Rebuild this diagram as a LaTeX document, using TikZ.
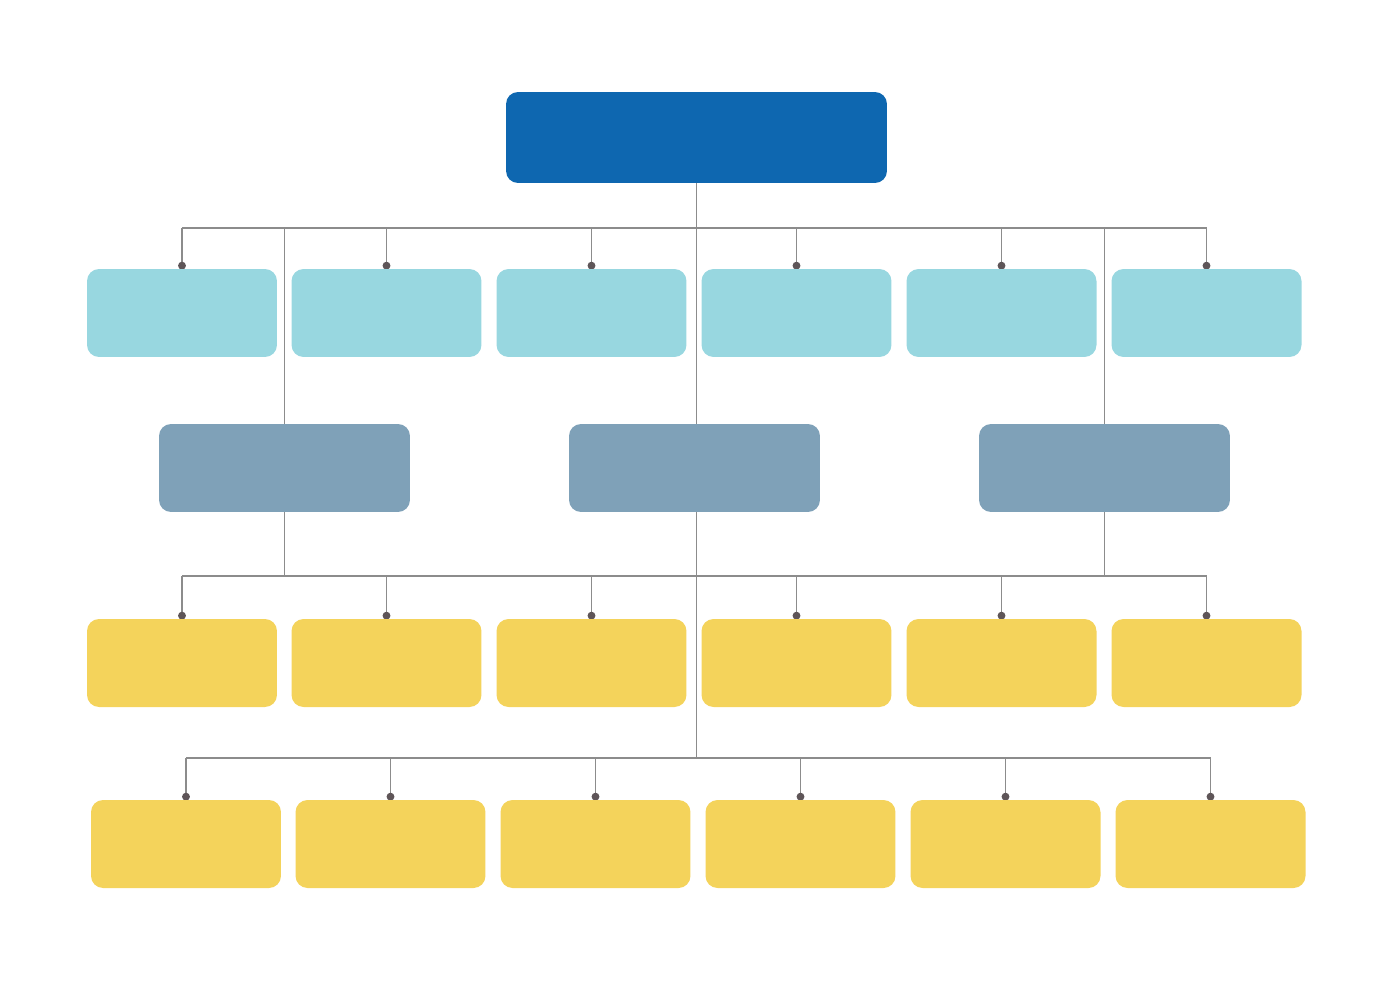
\documentclass[tikz,border=0pt]{standalone}
\usetikzlibrary{backgrounds}

\definecolor{topblue}{HTML}{0E67B0}
\definecolor{lightblue}{HTML}{98D7E0}
\definecolor{steelblue}{HTML}{7FA1B8}
\definecolor{sunyellow}{HTML}{F4D35B}
\definecolor{linegray}{HTML}{8C8C8C}
\definecolor{dotgray}{HTML}{5E5558}

\begin{document}
\begin{tikzpicture}[x=0.02cm, y=-0.02cm,
	box/.style = {rounded corners=0.24cm, minimum width=3.8cm, minimum height=1.76cm, inner sep=0pt},
	link/.style = {draw=linegray, line width=0.9pt},
	tip/.style = {fill=dotgray, circle, inner sep=0pt, minimum size=4.5pt}]
	\useasboundingbox (0,0) rectangle (1398,980);
	% boxes
	\node [box, fill=topblue, minimum width=7.62cm, minimum height=1.82cm] (top) at (696.5,137.5) {};
	\foreach \i/\x in {1/182,2/386.5,3/591.5,4/796.5,5/1001.5,6/1206.5} {
		\node [box, fill=lightblue] (l\i) at (\x,313) {};
		\node [box, fill=sunyellow] (a\i) at (\x,663) {};
	}
	\foreach \i/\x in {1/186,2/390.5,3/595.5,4/800.5,5/1005.5,6/1210.5}
		\node [box, fill=sunyellow] (b\i) at (\x,844) {};
	\foreach \i/\x in {1/284.5,2/694.5,3/1104.5}
		\node [box, fill=steelblue, minimum width=5.02cm] (m\i) at (\x,468) {};
	% connectors
	\begin{scope}[on background layer]
		\coordinate (rowl) at (0,228);
		\coordinate (rowa) at (0,576);
		\coordinate (rowb) at (0,758);
		\draw [link] (top.south) -- (top.south |- rowb);
		\draw [link] (l1.north |- rowl) -- (l6.north |- rowl);
		\draw [link] (m1.north |- rowl) -- (m1.north);
		\draw [link] (m3.north |- rowl) -- (m3.north);
		\draw [link] (m1.south) -- (m1.south |- rowa);
		\draw [link] (m3.south) -- (m3.south |- rowa);
		\draw [link] (a1.north |- rowa) -- (a6.north |- rowa);
		\draw [link] (b1.north |- rowb) -- (b6.north |- rowb);
		\foreach \n in {l,a,b}
			\foreach \i in {1,...,6} {
				\draw [link] (\n\i.north |- row\n) -- ([yshift=0.06cm]\n\i.north);
				\node [tip] at ([yshift=0.06cm]\n\i.north) {};
			}
	\end{scope}
\end{tikzpicture}
\end{document}
